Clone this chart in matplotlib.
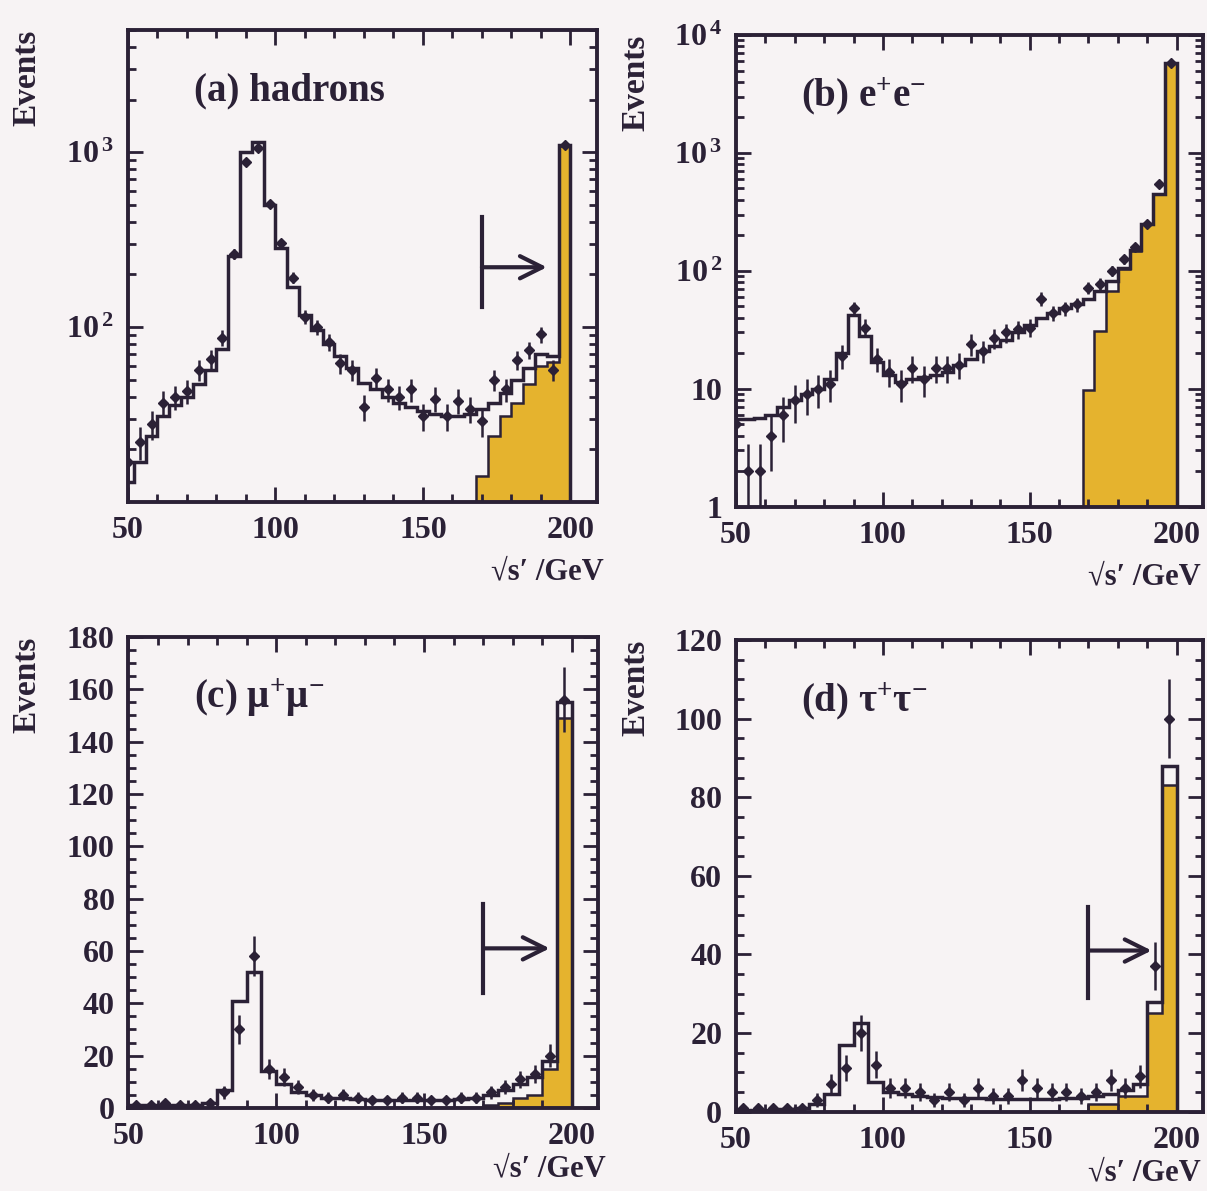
import numpy as np
import matplotlib
matplotlib.use("Agg")
import matplotlib.pyplot as plt
from matplotlib.ticker import MultipleLocator, LogLocator, FixedLocator, FixedFormatter, NullFormatter

plt.rcParams['font.family'] = ['Liberation Serif', 'DejaVu Serif']
plt.rcParams['font.weight'] = 'bold'
plt.rcParams['mathtext.fontset'] = 'custom'
plt.rcParams['mathtext.rm'] = 'Liberation Serif:bold'
plt.rcParams['mathtext.bf'] = 'Liberation Serif:bold'
plt.rcParams['mathtext.it'] = 'Liberation Serif:bold'

# binning (GeV)
bordes_ab = np.arange(48, 201, 4)      # 4 GeV, primer bin cortado en 50
bordes_cd = np.arange(50, 201, 5)      # 5 GeV
bordes_alto_ab = np.arange(168, 201, 4)
bordes_alto_cd = np.arange(170, 201, 5)

# (a) hadrones
had_datos = [17, 22, 28, 37, 40, 43, 57, 66, 87, 263, 880, 1060, 505, 303, 192, 115, 100, 82,
             62, 57, 35, 51, 44, 40, 44, 31, 39, 31, 38, 34, 29, 50, 44, 65, 74, 91, 57, 1100]
had_mc = [13, 17, 24, 31, 36, 40, 47, 57, 75, 255, 1000, 1150, 500, 285, 170, 118, 96, 80,
          68, 58, 48, 44, 40, 37, 35, 33, 32, 31, 31, 32, 34, 37, 42, 50, 58, 70, 68, 1100]
had_alto = [14, 24, 31, 37, 47, 60, 63, 1090]

# (b) e+e-
ee_datos = [5, 2, 2, 4, 6, 8, 9, 10, 11, 19, 48, 33, 18, 14, 11, 15, 12, 15, 15,
            16, 24, 21, 27, 30, 32, 33, 58, 44, 48, 52, 72, 78, 100, 125, 160, 250, 540, 5800]
ee_mc = [5.5, 5.5, 5.7, 6, 7, 8, 9, 10, 12, 20, 42, 28, 17, 13, 11.5, 12, 12.5, 13, 14,
         16, 18, 21, 23, 26, 30, 35, 40, 44, 48, 52, 58, 68, 82, 105, 150, 250, 445, 5750]
ee_alto = [9.7, 31, 68, 104, 148, 248, 445, 5750]

# (c) mu+mu-
mumu_datos = [1, 1, 2, 1, 1, 2, 6, 30, 58, 15, 12, 8, 5, 4, 5, 4, 3, 3, 4, 4,
              3, 3, 4, 4, 6, 8, 11, 13, 20, 156]
mumu_mc = [1, 1, 1, 1, 1, 2, 7, 41, 52, 14, 9, 6, 5, 4, 4, 3.5, 3, 3, 3, 3,
           3, 3, 3.5, 4, 5, 7, 9, 12, 18, 155]
mumu_alto = [1, 2, 4, 5, 15, 149]

# (d) tau+tau-
tautau_datos = [1, 1, 1, 1, 1, 3, 7, 11, 20, 12, 6, 6, 5, 3, 5, 3, 6, 4, 4, 8,
                6, 5, 5, 4, 5, 8, 6, 9, 37, 100]
tautau_mc = [0.5, 0.5, 0.5, 0.7, 1, 2, 4.5, 17, 22.5, 7.5, 5, 4.5, 4, 3.8, 3.6, 3.5, 3.4, 3.3, 3.3, 3.3,
             3.3, 3.3, 3.4, 3.6, 4, 4.5, 5.5, 7, 28, 88]
tautau_alto = [2, 2, 4, 4, 25, 83]

# corte sqrt(s')/sqrt(s) > 0.85 : flecha (x corte, y barra abajo, y barra arriba, y flecha, x punta)
flecha_a = (170, 130, 425, 220, 192)
flecha_c = (170, 44, 78, 61, 192.5)
flecha_d = (170, 29, 52, 41, 191.5)

tinta = '#2b2136'
amarillo = '#e5b32e'
fondo = '#f7f3f4'

fig = plt.figure(figsize=(12.07, 11.91), dpi=100, facecolor=fondo)


def panel(pos, bordes, mc, datos, bordes_alto, alto, etiqueta, ylim, log, flecha=None,
          xlab_pos=(1.015, -0.148)):
    ax = fig.add_axes(pos)
    ax.set_facecolor(fondo)
    ax.set_xlim(50, 209)
    if log:
        ax.set_yscale('log')
    ax.set_ylim(*ylim)
    base = ylim[0]

    ax.stairs(alto, bordes_alto, baseline=base, fill=True, color=amarillo, zorder=1)
    ax.stairs(alto, bordes_alto, baseline=base, color=tinta, lw=1.8, zorder=2)
    ax.stairs(mc, bordes, baseline=base, color=tinta, lw=2.5, zorder=3)

    centros = 0.5 * (bordes[:-1] + bordes[1:])
    datos = np.array(datos, dtype=float)
    ax.errorbar(centros, datos, yerr=np.sqrt(datos), fmt='D', ms=5.5, color=tinta,
                elinewidth=1.8, capsize=0, zorder=4)

    if flecha is not None:
        xc, y1, y2, ym, xt = flecha
        ax.plot([xc, xc], [y1, y2], color=tinta, lw=3, zorder=5)
        ax.annotate('', xy=(xt, ym), xytext=(xc, ym),
                    arrowprops=dict(arrowstyle='->', lw=3, color=tinta, mutation_scale=40,
                                    shrinkA=0, shrinkB=0), zorder=5)

    ax.xaxis.set_major_locator(MultipleLocator(50))
    ax.xaxis.set_minor_locator(MultipleLocator(10))
    ax.tick_params(which='both', direction='in', top=True, right=True, width=2,
                   colors=tinta, labelsize=23, pad=10)
    ax.tick_params(which='major', length=11)
    ax.tick_params(which='minor', length=5.5)
    for s in ax.spines.values():
        s.set_linewidth(2.8)
        s.set_color(tinta)

    ax.text(0.14, 0.87, etiqueta, transform=ax.transAxes, fontsize=28,
            color=tinta, va='center', ha='left')
    ax.text(-0.215, 1.0, 'Events', transform=ax.transAxes, rotation=90, fontsize=24,
            color=tinta, va='top', ha='center')
    ax.text(xlab_pos[0], xlab_pos[1], "√s′ /GeV", transform=ax.transAxes, fontsize=22,
            color=tinta, va='center', ha='right')
    return ax


# (a)
ax = panel([0.106, 0.5785, 0.3886, 0.3963], bordes_ab, had_mc, had_datos, bordes_alto_ab,
           had_alto, '(a) hadrons', (10, 5000), True, flecha_a)
ax.yaxis.set_major_locator(FixedLocator([100, 1000]))
ax.yaxis.set_major_formatter(FixedFormatter([r'$10^{\,2}$', r'$10^{\,3}$']))
ax.yaxis.set_minor_locator(LogLocator(subs=np.arange(2, 10)))
ax.yaxis.set_minor_formatter(NullFormatter())

# (b)
ax = panel([0.6098, 0.5746, 0.3869, 0.396], bordes_ab, ee_mc, ee_datos, bordes_alto_ab,
           ee_alto, r'(b) e$^{+}$e$^{-}$', (1, 10000), True, xlab_pos=(0.995, -0.148))
ax.yaxis.set_major_locator(FixedLocator([1, 10, 100, 1000, 10000]))
ax.yaxis.set_major_formatter(FixedFormatter(['1', '10', r'$10^{\,2}$', r'$10^{\,3}$', r'$10^{\,4}$']))
ax.yaxis.set_minor_locator(LogLocator(subs=np.arange(2, 10)))
ax.yaxis.set_minor_formatter(NullFormatter())

# (c)
ax = panel([0.1064, 0.0697, 0.3894, 0.3955], bordes_cd, mumu_mc, mumu_datos, bordes_alto_cd,
           mumu_alto, r'(c) μ$^{+}$μ$^{-}$', (0, 180), False, flecha_c, xlab_pos=(1.015, -0.13))
ax.yaxis.set_major_locator(MultipleLocator(20))
ax.yaxis.set_minor_locator(MultipleLocator(5))

# (d)
ax = panel([0.6098, 0.0666, 0.3869, 0.396], bordes_cd, tautau_mc, tautau_datos, bordes_alto_cd,
           tautau_alto, r'(d) τ$^{+}$τ$^{-}$', (0, 120), False, flecha_d, xlab_pos=(0.995, -0.13))
ax.yaxis.set_major_locator(MultipleLocator(20))
ax.yaxis.set_minor_locator(MultipleLocator(5))

fig.savefig('out.png', dpi=100, facecolor=fondo)
